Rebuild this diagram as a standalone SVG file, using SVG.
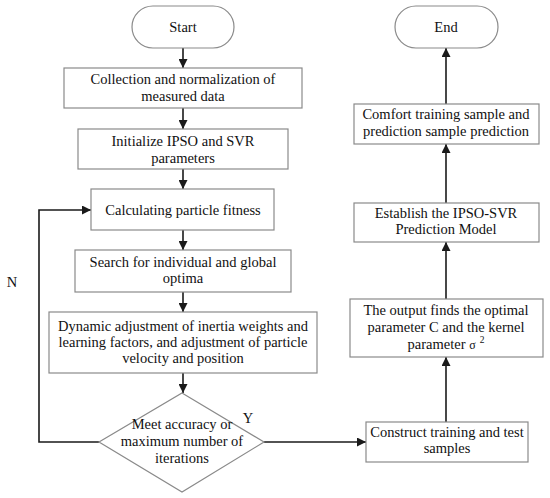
<svg xmlns="http://www.w3.org/2000/svg" width="550" height="498" viewBox="0 0 550 498">
<defs>
<style>
.box{fill:#fff;stroke:#8a8a8a;stroke-width:1.2}
.t{font-family:"Liberation Serif","Times New Roman",serif;font-size:14.5px;fill:#111;text-anchor:middle}
.c{fill:none;stroke:#1a1a1a;stroke-width:1.6}
</style>
<marker id="ah" viewBox="0 0 10 10" refX="10" refY="5" markerWidth="9" markerHeight="9" markerUnits="userSpaceOnUse" orient="auto">
<path d="M0,0 L10,5 L0,10 z" fill="#1a1a1a"/>
</marker>
</defs>
<rect width="550" height="498" fill="#fff"/>
<g id="connectors">
<path class="c" d="M183,48 V68" marker-end="url(#ah)"/>
<path class="c" d="M183,108 V129" marker-end="url(#ah)"/>
<path class="c" d="M183,169 V189" marker-end="url(#ah)"/>
<path class="c" d="M183,230 V250" marker-end="url(#ah)"/>
<path class="c" d="M183,292 V312" marker-end="url(#ah)"/>
<path class="c" d="M183,373 V393" marker-end="url(#ah)"/>
<path class="c" d="M99,442 H39 V210 H91" marker-end="url(#ah)"/>
<path class="c" d="M264,442 H366" marker-end="url(#ah)"/>
<path class="c" d="M446,422 V357" marker-end="url(#ah)"/>
<path class="c" d="M446,299 V242" marker-end="url(#ah)"/>
<path class="c" d="M446,203 V144" marker-end="url(#ah)"/>
<path class="c" d="M446,104 V48" marker-end="url(#ah)"/>
</g>
<g id="start">
<rect class="box" x="132" y="6" width="102" height="42" rx="21" ry="21"/>
<text class="t" x="183" y="32">Start</text>
</g>
<g id="collect">
<rect class="box" x="64" y="68" width="238" height="40"/>
<text class="t" x="183" y="84">Collection and normalization of</text>
<text class="t" x="183" y="101">measured data</text>
</g>
<g id="init">
<rect class="box" x="78" y="129" width="210" height="40"/>
<text class="t" x="183" y="145.5">Initialize IPSO and SVR</text>
<text class="t" x="183" y="162.5">parameters</text>
</g>
<g id="fitness">
<rect class="box" x="91" y="189" width="183" height="41"/>
<text class="t" x="183" y="215">Calculating particle fitness</text>
</g>
<g id="search">
<rect class="box" x="75" y="250" width="216" height="42"/>
<text class="t" x="183" y="266.5">Search for individual and global</text>
<text class="t" x="183" y="283">optima</text>
</g>
<g id="dynamic">
<rect class="box" x="49" y="312" width="268" height="61"/>
<text class="t" x="183" y="330.5">Dynamic adjustment of inertia weights and</text>
<text class="t" x="183" y="347">learning factors, and adjustment of particle</text>
<text class="t" x="183" y="363">velocity and position</text>
</g>
<g id="decision">
<polygon class="box" points="182,393 264,442 182,492 99,442"/>
<text class="t" x="182" y="429">Meet accuracy or</text>
<text class="t" x="182" y="446">maximum number of</text>
<text class="t" x="182" y="462.5">iterations</text>
<text class="t" x="248" y="423">Y</text>
<text class="t" x="12" y="287">N</text>
</g>
<g id="construct">
<rect class="box" x="366" y="422" width="162" height="40"/>
<text class="t" x="447" y="436.5">Construct training and test</text>
<text class="t" x="447" y="453">samples</text>
</g>
<g id="output">
<rect class="box" x="350" y="299" width="193" height="58"/>
<text class="t" x="446" y="315">The output finds the optimal</text>
<text class="t" x="446" y="331.5">parameter C and the kernel</text>
<text class="t" x="446" y="349">parameter <tspan font-size="12">σ</tspan><tspan font-size="9.5" dx="4" dy="-6">2</tspan></text>
</g>
<g id="establish">
<rect class="box" x="354" y="203" width="185" height="39"/>
<text class="t" x="446" y="217.5">Establish the IPSO-SVR</text>
<text class="t" x="446" y="234">Prediction Model</text>
</g>
<g id="comfort">
<rect class="box" x="354" y="104" width="185" height="40"/>
<text class="t" x="446" y="119">Comfort training sample and</text>
<text class="t" x="446" y="136">prediction sample prediction</text>
</g>
<g id="end">
<rect class="box" x="395" y="6" width="103" height="42" rx="21" ry="21"/>
<text class="t" x="446" y="32">End</text>
</g>
</svg>
